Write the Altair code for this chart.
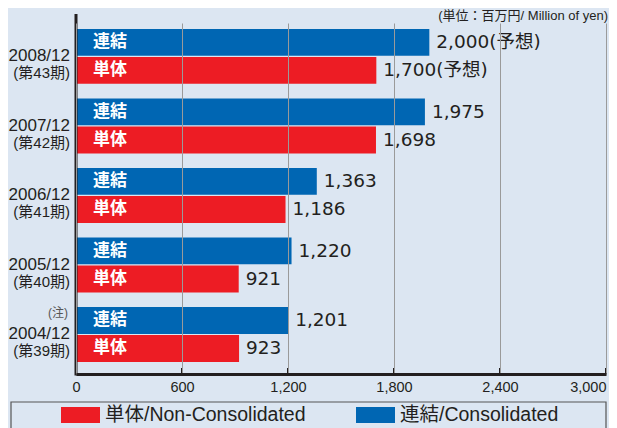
import altair as alt
import pandas as pd

# ---- data ----
periods = ["2008/12", "2007/12", "2006/12", "2005/12", "2004/12"]
terms = ["(第43期)", "(第42期)", "(第41期)", "(第40期)", "(第39期)"]
notes = ["", "", "", "", "(注)"]
consolidated = [2000, 1975, 1363, 1220, 1201]
non_consolidated = [1700, 1698, 1186, 921, 923]
value_suffix = ["(予想)", "", "", "", ""]
series_short = ["連結", "単体"]
series_legend = ["連結/Consolidated", "単体/Non-Consolidated"]
series_colors = ["#0066b3", "#ed1c24"]
x_ticks = [0, 600, 1200, 1800, 2400, 3000]
unit_label = "(単位：百万円/ Million of yen)"

# ---- tables built from the arrays ----
rows = []
for i, p in enumerate(periods):
    for s_short, s_leg, vals in (
        (series_short[0], series_legend[0], consolidated),
        (series_short[1], series_legend[1], non_consolidated),
    ):
        v = vals[i]
        rows.append({"period": p, "series": s_leg, "short": s_short, "value": v,
                     "label": f"{v:,}{value_suffix[i]}"})
df = pd.DataFrame(rows)
groups = pd.DataFrame({"period": periods, "term": terms, "note": notes})
ticks_df = pd.DataFrame({"tick": x_ticks[1:]})

W, H = 530, 351
DARK = "#231f20"
BG = "#dce6f2"
JP = "Noto Sans CJK JP"
NARROW = "Liberation Sans Narrow, Arial Narrow, Liberation Sans, Noto Sans CJK JP"
LAT = "Liberation Sans, Noto Sans CJK JP"
NUM = "DejaVu Sans, Noto Sans CJK JP"

y_scale = alt.Scale(domain=periods, paddingInner=0.21, paddingOuter=0.13, align=0.33)
yoff_scale = alt.Scale(domain=series_legend, paddingInner=0.04)
x_scale = alt.Scale(domain=[0, 3000], nice=False)
color_scale = alt.Scale(domain=[series_legend[1], series_legend[0]],
                        range=[series_colors[1], series_colors[0]])

Y = alt.Y("period:N", scale=y_scale, axis=None)
YO = alt.YOffset("series:N", scale=yoff_scale)

bars = alt.Chart(df).mark_bar().encode(
    x=alt.X("value:Q", scale=x_scale, title=None,
            axis=alt.Axis(values=x_ticks, format=",d", grid=True, gridColor="#9a9a9a",
                          gridWidth=1, domainColor=DARK, domainWidth=3, ticks=False,
                          labelFont=LAT, labelFontSize=14.5, labelColor=DARK,
                          labelPadding=6, zindex=1,
                          labelAlign={"condition": {"test": "datum.value === 3000", "value": "right"},
                                      "value": "center"})),
    y=Y,
    yOffset=YO,
    color=alt.Color("series:N", scale=color_scale,
                    legend=alt.Legend(orient="none", legendX=-15, legendY=372.5,
                                      direction="horizontal", title=None,
                                      symbolType="M-1,-0.41H1V0.41H-1Z", symbolSize=1521,
                                      symbolStrokeWidth=0, symbolOpacity=1,
                                      labelFont=LAT, labelFontSize=19.5, labelColor=DARK,
                                      labelOffset=5, columnPadding=50, padding=0,
                                      labelLimit=400)),
)

inner = alt.Chart(df).mark_text(align="left", baseline="middle", color="white",
                                fontSize=17, fontWeight="bold", font=JP).encode(
    x=alt.value(17), y=Y, yOffset=YO, text="short:N")

values = alt.Chart(df).mark_text(align="left", baseline="middle", dx=7, color=DARK,
                                 fontSize=18.5, font=NUM).encode(
    x=alt.X("value:Q", scale=x_scale), y=Y, yOffset=YO, text="label:N")

line1 = alt.Chart(groups).mark_text(align="right", baseline="middle", color=DARK,
                                    fontSize=17, font=NARROW).encode(
    x=alt.value(-6), y=Y, text="period:N")
line2 = alt.Chart(groups).mark_text(align="right", baseline="middle", color=DARK, dy=17,
                                    fontSize=15, font=NARROW).encode(
    x=alt.value(-6), y=Y, text="term:N")
note = alt.Chart(groups).mark_text(align="right", baseline="middle", color="#555555", dy=-21,
                                   fontSize=12, font=NARROW).encode(
    x=alt.value(-8), y=Y, text="note:N")

tick_marks = alt.Chart(ticks_df).mark_rule(color=DARK, strokeWidth=2).encode(
    x=alt.X("tick:Q", scale=x_scale), y=alt.value(H - 6), y2=alt.value(H))

left_line = alt.Chart(alt.Data(values=[{}])).mark_rule(color=DARK, strokeWidth=3).encode(
    x=alt.value(0), y=alt.value(-9), y2=alt.value(H + 1.5))

unit = alt.Chart(alt.Data(values=[{"t": unit_label}])).mark_text(
    align="right", baseline="middle", color=DARK, fontSize=13, font=LAT).encode(
    x=alt.value(W + 2), y=alt.value(-7), text="t:N")

legend_box = alt.Chart(alt.Data(values=[{}])).mark_rect(
    fillOpacity=0, stroke="#555555", strokeWidth=1.2).encode(
    x=alt.value(-65), x2=alt.value(W), y=alt.value(379), y2=alt.value(440))

chart = alt.layer(
    bars, inner, values, line1, line2, note, tick_marks, left_line, unit, legend_box
).properties(
    width=W, height=H, background=BG,
    padding={"left": 68, "top": 15, "right": 3, "bottom": 54},
    autosize=alt.AutoSizeParams(type="none"),
).configure_view(stroke=None)

chart.save("out.html", embed_options={"renderer": "svg", "actions": False})
